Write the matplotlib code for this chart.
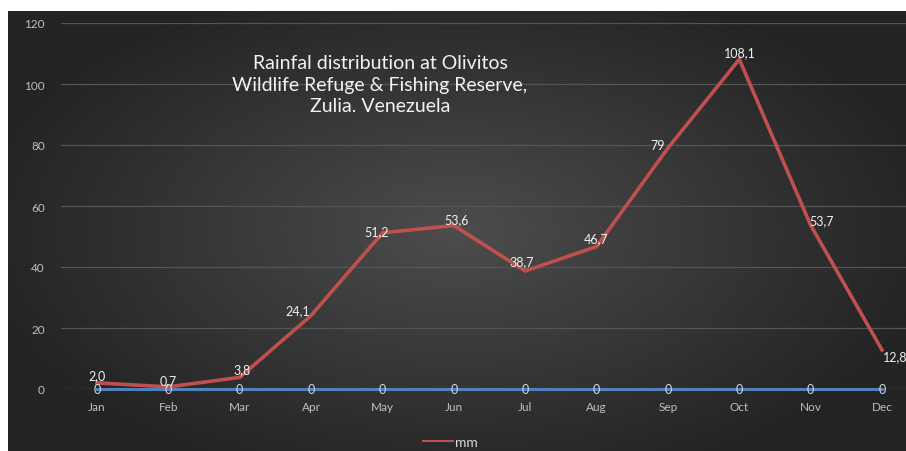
import numpy as np
import matplotlib.pyplot as plt
from matplotlib.lines import Line2D

plt.rcParams['font.family'] = ['Lato', 'DejaVu Sans']

months = ['Jan', 'Feb', 'Mar', 'Apr', 'May', 'Jun', 'Jul', 'Aug', 'Sep', 'Oct', 'Nov', 'Dec']
rain_mm = [2.0, 0.7, 3.8, 24.1, 51.2, 53.6, 38.7, 46.7, 79, 108.1, 53.7, 12.8]
rain_labels = ['2,0', '0,7', '3,8', '24,1', '51,2', '53,6', '38,7', '46,7', '79', '108,1', '53,7', '12,8']
zero_series = [0] * 12
y_ticks = [0, 20, 40, 60, 80, 100, 120]

# label offsets in pixels (dx, dy)
label_offsets = [(0, 8), (0, 7), (2, 8), (-13, 5), (-6, 2), (3, 6), (-3, 10),
                 (0, 8), (-10, 3), (1, 7), (11, 5), (13, -6)]

W, H = 906, 452
fig = plt.figure(figsize=(W / 100, H / 100), dpi=100)
fig.patch.set_facecolor('white')

# dark radial gradient background
bg = fig.add_axes([8 / W, 0, 1 - 8 / W, (H - 12) / H])
bg.set_axis_off()
gx, gy = np.meshgrid(np.linspace(-1, 1, 400), np.linspace(-1, 1, 200))
r = np.sqrt((gx * 1.0) ** 2 + (gy * 0.9) ** 2)
shade = np.clip(0.30 - 0.15 * r, 0.14, 0.30)
bg.imshow(np.dstack([shade] * 3), aspect='auto', extent=[0, 1, 0, 1])

left = 61.3 / W
width = 856.4 / W
bottom = (H - 390) / H
height = (390 - 24) / H
ax = fig.add_axes([left, bottom, width, height])
ax.set_facecolor('none')

x = np.arange(len(months))
ax.plot(x, zero_series, color='#4f81bd', lw=2.2, zorder=3, clip_on=False)
ax.plot(x, rain_mm, color='#c0504d', lw=2.6, zorder=4, solid_joinstyle='miter', clip_on=False)

for i, (v, lab) in enumerate(zip(rain_mm, rain_labels)):
    dx, dy = label_offsets[i]
    ax.annotate(lab, (i, v), xytext=(dx, dy), textcoords='offset pixels',
                ha='center', va='center', color='#f0f0f0', fontsize=9, zorder=6)
for i, v in enumerate(zero_series):
    ax.annotate('0', (i, v), xytext=(0, 0), textcoords='offset pixels',
                ha='center', va='center', color='#d9d9d9', fontsize=9, zorder=6)

ax.set_xlim(-0.5, len(months) - 0.5)
ax.set_ylim(0, 120)
ax.set_yticks(y_ticks)
ax.set_xticks(x)
ax.set_xticklabels(months)
ax.grid(axis='y', color='#555555', lw=0.9)
ax.set_axisbelow(True)
ax.tick_params(length=0, colors='#bfbfbf', labelsize=8.5)
ax.tick_params(axis='x', pad=9)
ax.tick_params(axis='y', pad=12)
for s in ax.spines.values():
    s.set_visible(False)

ax.text(380 / W, 1 - 85 / H, 'Rainfal distribution at Olivitos\nWildlife Refuge & Fishing Reserve,\nZulia. Venezuela',
        transform=fig.transFigure, ha='center', va='center', color='#f2f2f2',
        fontsize=14, linespacing=1.3)

handle = Line2D([], [], color='#c0504d', lw=1.5)
fig.legend([handle], ['mm'], loc='center', bbox_to_anchor=(0.497, 1 - 443 / H),
           frameon=False, fontsize=10, labelcolor='#d9d9d9',
           handlelength=2.2, handletextpad=0.1)

fig.savefig('out.png', dpi=100)
